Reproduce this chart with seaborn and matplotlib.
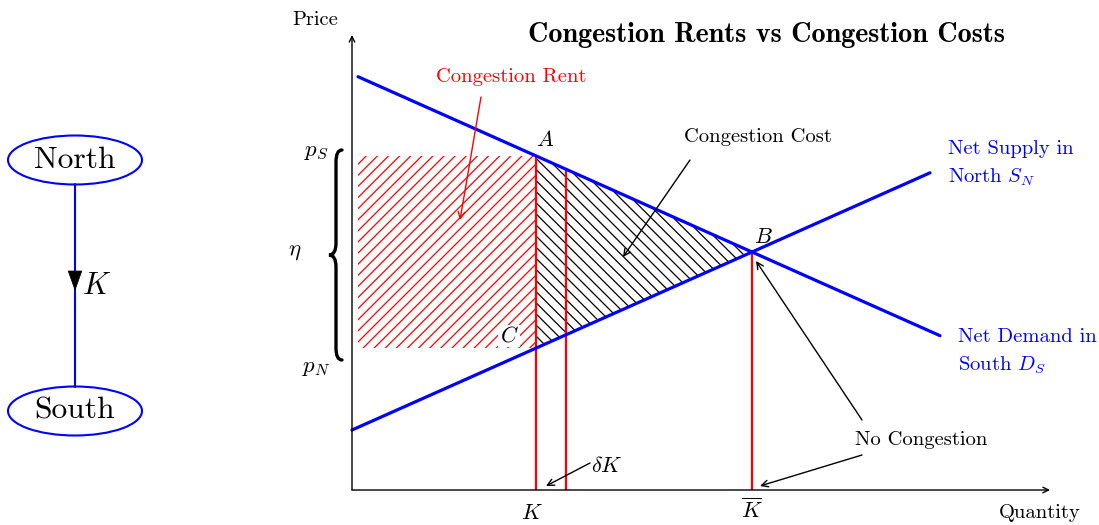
import numpy as np
import matplotlib
matplotlib.use("Agg")
import matplotlib.pyplot as plt
import seaborn as sns
from matplotlib.patches import Ellipse, Polygon, PathPatch
from matplotlib.path import Path

# Curves (quantity, price)
demand_q = [0.15, 14.7]
demand_p = [10.333, 3.858]
supply_q = [0.0, 14.45]
supply_p = [1.5, 7.93]

# Key quantities / prices
K = 4.6
dK = 0.75
K_bar = 10.0
p_S = 8.35
p_N = 3.55
rent_start = 0.15

sns.set_theme(style="white")
plt.rcParams["font.family"] = ["cmr10"]
plt.rcParams["mathtext.fontset"] = "cm"
plt.rcParams["axes.formatter.use_mathtext"] = True
plt.rcParams["hatch.linewidth"] = 0.9
plt.rcParams["text.color"] = "black"

fig = plt.figure(figsize=(10.99, 5.25), dpi=100)
ax = fig.add_axes([0, 0, 1, 1])
ax.set_xlim(-352 / 40, (1099 - 352) / 40)
ax.set_ylim((490 - 525) / 40, 490 / 40)
ax.axis("off")


def D(q):
    return np.interp(q, demand_q, demand_p)


def S(q):
    return np.interp(q, supply_q, supply_p)


# hatched areas
ax.fill_between([rent_start, K], p_N, p_S, facecolor="none", edgecolor="red",
                hatch="///", linewidth=0, zorder=1)
qq = np.linspace(K, K_bar, 50)
ax.fill_between(qq, S(qq), D(qq), facecolor="none", edgecolor="black",
                hatch="\\\\\\", linewidth=0, zorder=1)

# red verticals
ax.vlines([K, K + dK, K_bar], 0, [D(K), D(K + dK), D(K_bar)], color="red", lw=1.6, zorder=2)

# supply / demand
sns.lineplot(x=demand_q, y=demand_p, ax=ax, color="blue", lw=2.3, zorder=3)
sns.lineplot(x=supply_q, y=supply_p, ax=ax, color="blue", lw=2.3, zorder=3)

# axes arrows
arr = dict(arrowstyle="->", color="black", lw=1.0, mutation_scale=10, shrinkA=0, shrinkB=0)
ax.annotate("", xy=(0, 11.375), xytext=(0, 0), arrowprops=arr)
ax.annotate("", xy=(17.45, 0), xytext=(0, 0), arrowprops=arr)

fs = 14.8
ax.text(-0.925, 11.75, "Price", fontsize=fs, ha="center", va="center")
ax.text(17.2, -0.575, "Quantity", fontsize=fs, ha="center", va="center")
ax.text(10.35, 11.375, "Congestion Rents vs Congestion Costs", fontsize=20.3,
        family="cmb10", ha="center", va="center")

# labels
ax.text(3.975, 10.325, "Congestion Rent", color="red", fontsize=fs, ha="center", va="center")
ax.annotate("", xy=(2.7, 6.75), xytext=(3.225, 9.825),
            arrowprops=dict(arrowstyle="->", color="red", lw=1.0, mutation_scale=12,
                            shrinkA=0, shrinkB=0))
ax.text(10.15, 8.825, "Congestion Cost", fontsize=fs, ha="center", va="center")
black_arr = dict(arrowstyle="->", color="black", lw=1.0, mutation_scale=12, shrinkA=0, shrinkB=0)
ax.annotate("", xy=(6.775, 5.825), xytext=(8.45, 8.25), arrowprops=black_arr)

ax.text(4.825, 8.75, "$A$", fontsize=16, ha="center", va="center")
ax.text(10.275, 6.325, "$B$", fontsize=16, ha="center", va="center")
ax.text(3.925, 3.85, "$C$", fontsize=16, ha="center", va="center", zorder=4,
        bbox=dict(facecolor="white", edgecolor="none", pad=1))
ax.text(-0.9, 8.45, "$p_S$", fontsize=16.5, ha="center", va="center")
ax.text(-0.9, 3.05, "$p_N$", fontsize=16.5, ha="center", va="center")
ax.text(-1.425, 5.95, r"$\eta$", fontsize=16.5, ha="center", va="center")

ax.text(14.9, 8.15, "Net Supply in\nNorth $S_N$", color="blue", fontsize=fs,
        ha="left", va="center", linespacing=1.5)
ax.text(15.15, 3.45, "Net Demand in\nSouth $D_S$", color="blue", fontsize=fs,
        ha="left", va="center", linespacing=1.5)

ax.text(14.225, 1.25, "No Congestion", fontsize=fs, ha="center", va="center")
ax.annotate("", xy=(10.1, 5.725), xytext=(12.75, 1.75), arrowprops=black_arr)
ax.annotate("", xy=(10.2, 0.1), xytext=(12.75, 0.875), arrowprops=black_arr)

ax.text(6.375, 0.6, r"$\delta K$", fontsize=16, ha="center", va="center")
ax.annotate("", xy=(4.85, 0.1), xytext=(5.95, 0.675), arrowprops=black_arr)
ax.text(K - 0.1, -0.575, "$K$", fontsize=16, ha="center", va="center")
ax.text(K_bar, -0.5, r"$\overline{K}$", fontsize=16, ha="center", va="center")

# brace between p_N and p_S
ytop, ybot = p_S + 0.15, p_N - 0.3
ymid = (ytop + ybot) / 2
xr, xs, xc, r = -0.25, -0.4, -0.575, 0.3
verts = [(xr, ytop), (xs, ytop), (xs, ytop - r), (xs, ymid + r),
         (xs, ymid), (xc, ymid), (xs, ymid), (xs, ymid - r),
         (xs, ybot + r), (xs, ybot), (xr, ybot)]
codes = [Path.MOVETO, Path.CURVE3, Path.CURVE3, Path.LINETO,
         Path.CURVE3, Path.CURVE3, Path.CURVE3, Path.CURVE3,
         Path.LINETO, Path.CURVE3, Path.CURVE3]
ax.add_patch(PathPatch(Path(verts, codes), facecolor="none", edgecolor="black",
                       lw=2.4, capstyle="round"))

# North -> South network
node_q = -6.925
north_p, south_p = 8.25, 1.975
ew, eh = 3.35, 1.225
for p, name in [(north_p, "North"), (south_p, "South")]:
    ax.add_patch(Ellipse((node_q, p), ew, eh, facecolor="white", edgecolor="blue", lw=1.5))
    ax.text(node_q, p, name, fontsize=22.7, ha="center", va="center")
ax.plot([node_q, node_q], [north_p - eh / 2, south_p + eh / 2], color="blue", lw=1.5, zorder=1)
ax.add_patch(Polygon([(node_q - 0.17, 5.475), (node_q + 0.17, 5.475), (node_q, 5.0)],
                     closed=True, facecolor="black", edgecolor="black", lw=0.5, zorder=3))
ax.text(node_q + 0.55, 5.1, "$K$", fontsize=22, ha="center", va="center")

fig.savefig("out.png", dpi=100)
